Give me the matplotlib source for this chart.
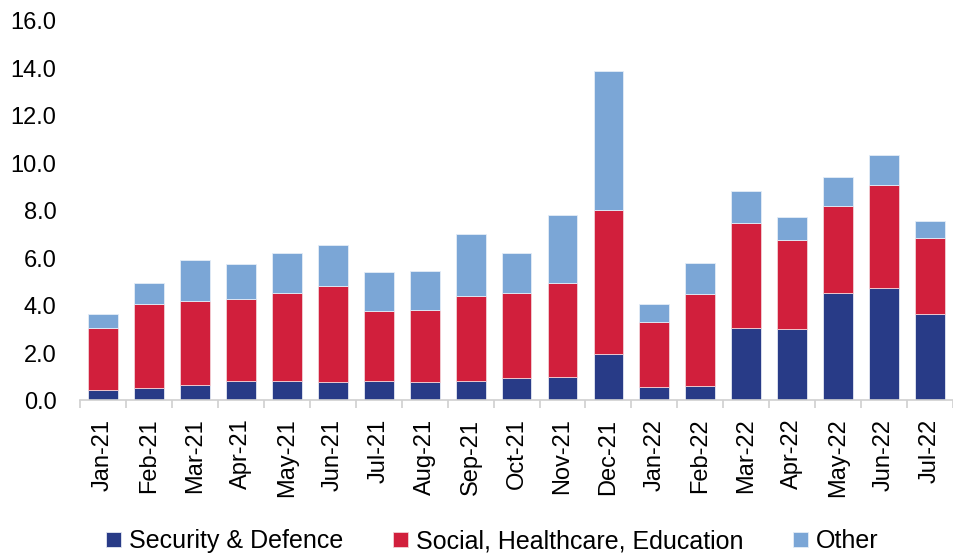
import numpy as np
import matplotlib
matplotlib.use("Agg")
import matplotlib.pyplot as plt
from matplotlib.ticker import FormatStrFormatter

# monthly values
months = ['Jan-21', 'Feb-21', 'Mar-21', 'Apr-21', 'May-21', 'Jun-21', 'Jul-21',
          'Aug-21', 'Sep-21', 'Oct-21', 'Nov-21', 'Dec-21', 'Jan-22', 'Feb-22',
          'Mar-22', 'Apr-22', 'May-22', 'Jun-22', 'Jul-22']
security = [0.46, 0.53, 0.64, 0.83, 0.83, 0.76, 0.83, 0.76, 0.83, 0.93,
            0.99, 1.94, 0.55, 0.59, 3.07, 3.02, 4.53, 4.76, 3.66]
social = [2.61, 3.54, 3.54, 3.46, 3.70, 4.07, 2.94, 3.07, 3.57, 3.60,
          3.95, 6.09, 2.76, 3.89, 4.42, 3.73, 3.66, 4.31, 3.21]
other = [0.59, 0.87, 1.76, 1.46, 1.69, 1.74, 1.63, 1.63, 2.63, 1.69,
         2.90, 5.85, 0.76, 1.33, 1.35, 0.98, 1.23, 1.27, 0.69]

plt.rcParams['font.family'] = ['Liberation Sans', 'DejaVu Sans']

fig = plt.figure(figsize=(9.54, 5.58), dpi=100)
ax = fig.add_axes([0.0839, 0.2823, 0.9151, 0.6801])

x = np.arange(len(months))
bot2 = np.array(security) + np.array(social)
w = 0.65
ax.bar(x, security, width=w, color='#283B87', edgecolor='#e4e8f2', linewidth=0.6,
       label='Security & Defence')
ax.bar(x, social, width=w, bottom=security, color='#D11F3C', edgecolor='#f2d0d6',
       linewidth=0.6, label='Social, Healthcare, Education')
ax.bar(x, other, width=w, bottom=bot2, color='#7BA6D6', edgecolor='#e4edf7',
       linewidth=0.6, label='Other')

ax.set_xlim(-0.5, len(months) - 0.5)
ax.set_ylim(0, 16)
ax.set_yticks(np.arange(0, 17, 2))
ax.yaxis.set_major_formatter(FormatStrFormatter('%.1f'))

ax.set_xticks(x)
ax.set_xticklabels(months, rotation=90)
ax.set_xticks(np.arange(-0.5, len(months)), minor=True)
ax.tick_params(axis='x', which='major', length=0, pad=13, labelsize=17)
ax.tick_params(axis='x', which='minor', length=6, width=1.2, color='#d0d0d0')
ax.tick_params(axis='y', length=0, pad=17, labelsize=17)

for s in ['top', 'right', 'left']:
    ax.spines[s].set_visible(False)
ax.spines['bottom'].set_color('#d0d0d0')
ax.spines['bottom'].set_linewidth(1.2)

fig.legend(loc='center', bbox_to_anchor=(0.516, 0.03), ncol=3, frameon=False,
           fontsize=18, handlelength=0.6, handleheight=0.6, handletextpad=0.3,
           columnspacing=2.0, borderpad=0.2)

fig.savefig('out.png', dpi=100)
